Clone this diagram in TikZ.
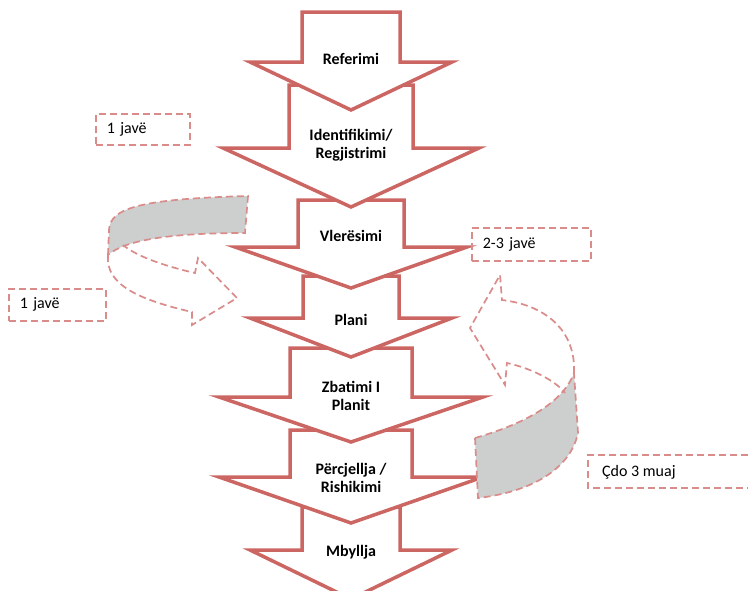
\documentclass[tikz,border=0pt]{standalone}
\usepackage{fontspec}
\setmainfont{Carlito}
\definecolor{arrowred}{RGB}{204,102,99}
\definecolor{dashred}{RGB}{217,140,138}
\definecolor{bandgray}{RGB}{205,207,206}
\tikzset{
  stepshape/.style={draw=arrowred, fill=white, line width=3.5pt, line join=miter},
  steptext/.style={align=center, inner sep=0pt, font={\fontsize{16}{18.5}\selectfont\bfseries}},
  loopband/.style={draw=dashred, fill=bandgray, line width=1.7pt, dash pattern=on 7pt off 4pt},
  loopline/.style={draw=dashred, line width=1.7pt, dash pattern=on 7pt off 4pt},
  weekbox/.style={draw=dashred, line width=1.7pt, dash pattern=on 7pt off 4pt, anchor=north west,
    inner xsep=11pt, align=left, font={\fontsize{16}{18}\selectfont}},
  weektext/.style={inner sep=0pt, anchor=west, font={\fontsize{16}{18}\selectfont}}
}
\begin{document}
\begin{tikzpicture}[x=1pt, y=-1pt]
	\useasboundingbox[fill=white] (0,0) rectangle (748,590);
	% arrows, last step first so that each one lies over the next
	\foreach \t/\sw/\s/\hw/\p in {507/49/550/101/599, 430/61/477/132/523, 348/61/397/132/442,
	    276/48/318/101/357, 200/53/247/116/288, 85/62/148/128/207, 12/49/62/101/110}
	  \draw[stepshape] (351-\sw,\t) -- (351+\sw,\t) -- (351+\sw,\s) -- (351+\hw,\s)
	    -- (351,\p) -- (351-\hw,\s) -- (351-\sw,\s) -- cycle;
	
	\node[steptext] (referimi) at (351,59) {Referimi};
	\node[steptext] (identifikimi) at (351,145) {Identifikimi/\\Regjistrimi};
	\node[steptext] (vleresimi) at (351,236) {Vlerësimi};
	\node[steptext] (plani) at (351,320) {Plani};
	\node[steptext] (zbatimi) at (351,396) {Zbatimi I\\Planit};
	\node[steptext] (percjellja) at (351,478) {Përcjellja /\\Rishikimi};
	\node[steptext] (mbyllja) at (351,552) {Mbyllja};
	
	% left loop
	\draw[loopband] (108,255) -- (109,230) .. controls (110,208) and (140,199) .. (248,196)
	  -- (245,233) .. controls (170,233) and (125,240) .. (108,255) -- cycle;
	\draw[loopline] (108,255) .. controls (105,285) and (140,300) .. (192,312) -- (192,325)
	  -- (237,298) -- (198,258) -- (195,273) .. controls (160,265) and (135,255) .. (123,245);
	% right loop
	\draw[loopband] (475,438) .. controls (520,425) and (562,405) .. (574,373) -- (578,433)
	  .. controls (570,470) and (530,492) .. (478,498) -- cycle;
	\draw[loopline] (574,373) .. controls (576,330) and (545,305) .. (502,300) -- (500,275)
	  -- (470,328) -- (505,385) -- (507,363) .. controls (530,368) and (555,380) .. (565,393);
	
	\node[weekbox, text width=72pt, minimum height=31pt] (javeA) at (95,113) {1 javë};
	\node[weekbox, text width=75pt, minimum height=32pt] (javeB) at (8,288) {1 javë};
	\node[weekbox, text width=97pt, minimum height=33pt] (javeC) at (471,227) {2-3 javë};
	\draw[loopline] (748,455) -- (588,455) -- (588,488) -- (748,488);
	\node[weektext] (muaj) at (602,472) {Çdo 3 muaj};
\end{tikzpicture}
\end{document}
